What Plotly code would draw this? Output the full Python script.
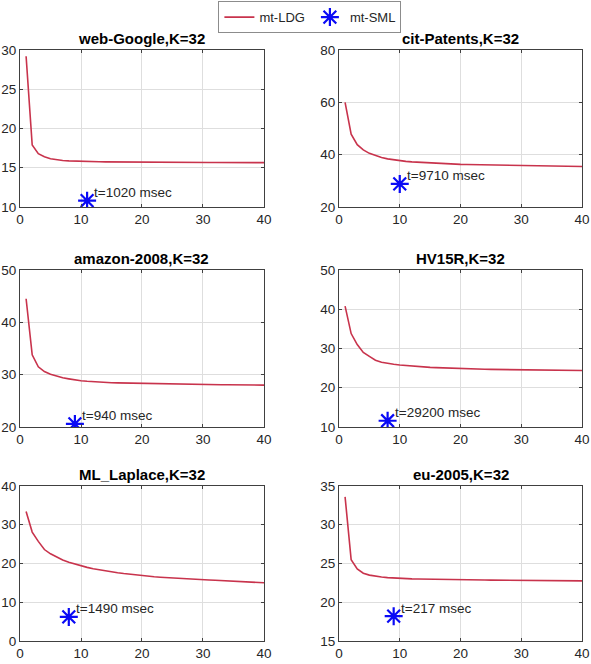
import plotly.graph_objects as go

iters = list(range(1, 41))

titles = ["web-Google,K=32", "cit-Patents,K=32", "amazon-2008,K=32",
          "HV15R,K=32", "ML_Laplace,K=32", "eu-2005,K=32"]

ldg_web_google = [29.2, 17.9, 16.8, 16.4, 16.15, 16.0, 15.92, 15.87, 15.83, 15.8,
                  15.78, 15.77, 15.76, 15.75, 15.74, 15.73, 15.72, 15.72, 15.71, 15.71,
                  15.70, 15.70, 15.69, 15.69, 15.69, 15.68, 15.68, 15.68, 15.67, 15.67,
                  15.67, 15.67, 15.66, 15.66, 15.66, 15.66, 15.65, 15.65, 15.65, 15.65]
ldg_cit_patents = [60.0, 47.8, 43.8, 41.8, 40.5, 39.6, 38.9, 38.4, 38.0, 37.7,
                   37.45, 37.25, 37.1, 36.95, 36.8, 36.7, 36.6, 36.5, 36.4, 36.3,
                   36.25, 36.2, 36.1, 36.05, 36.0, 35.95, 35.9, 35.85, 35.8, 35.77,
                   35.74, 35.7, 35.67, 35.64, 35.6, 35.57, 35.54, 35.5, 35.47, 35.45]
ldg_amazon = [44.5, 33.8, 31.5, 30.6, 30.1, 29.7, 29.4, 29.2, 29.0, 28.85,
              28.75, 28.65, 28.58, 28.52, 28.47, 28.43, 28.4, 28.37, 28.34, 28.32,
              28.3, 28.28, 28.26, 28.24, 28.22, 28.2, 28.18, 28.16, 28.14, 28.12,
              28.1, 28.09, 28.08, 28.07, 28.06, 28.05, 28.04, 28.03, 28.02, 28.0]
ldg_hv15r = [40.8, 33.8, 31.0, 29.0, 28.0, 27.0, 26.5, 26.2, 26.0, 25.8,
             25.65, 25.5, 25.4, 25.3, 25.2, 25.12, 25.05, 25.0, 24.95, 24.9,
             24.85, 24.8, 24.76, 24.72, 24.68, 24.65, 24.62, 24.6, 24.58, 24.56,
             24.54, 24.52, 24.5, 24.48, 24.46, 24.45, 24.44, 24.42, 24.41, 24.4]
ldg_ml_laplace = [33.4, 28.1, 25.7, 23.6, 22.5, 21.6, 20.9, 20.3, 19.8, 19.4,
                  19.0, 18.65, 18.35, 18.05, 17.8, 17.6, 17.4, 17.2, 17.0, 16.85,
                  16.7, 16.58, 16.46, 16.35, 16.25, 16.15, 16.05, 15.97, 15.89, 15.8,
                  15.73, 15.66, 15.59, 15.52, 15.45, 15.38, 15.3, 15.22, 15.12, 15.02]
ldg_eu2005 = [33.6, 25.5, 24.3, 23.75, 23.5, 23.35, 23.25, 23.18, 23.12, 23.08,
              23.05, 23.02, 23.0, 22.98, 22.96, 22.94, 22.93, 22.92, 22.91, 22.9,
              22.89, 22.88, 22.87, 22.86, 22.85, 22.84, 22.83, 22.82, 22.81, 22.8,
              22.8, 22.79, 22.79, 22.78, 22.78, 22.77, 22.77, 22.76, 22.76, 22.75]
ldg_series = [ldg_web_google, ldg_cit_patents, ldg_amazon, ldg_hv15r, ldg_ml_laplace, ldg_eu2005]

sml_x = [11, 10, 9, 8, 8, 9]
sml_y = [10.8, 28.8, 20.6, 11.6, 6.2, 18.2]
sml_labels = ["t=1020 msec", "t=9710 msec", "t=940 msec", "t=29200 msec", "t=1490 msec", "t=217 msec"]

y_ranges = [[10, 30], [20, 80], [20, 50], [10, 50], [0, 40], [15, 35]]
y_ticks = [[10, 15, 20, 25, 30], [20, 40, 60, 80], [20, 30, 40, 50],
           [10, 20, 30, 40, 50], [0, 10, 20, 30, 40], [15, 20, 25, 30, 35]]
x_ticks = [0, 10, 20, 30, 40]

x_domains = [[0, 0.4326], [0.5656, 0.9965]]
y_domains = [[0.7366, 1.0], [0.3674, 0.6309], [0.0084, 0.2685]]

LINE_COLOR = "#C8334C"
STAR_COLOR = "#0A0AF5"
FONT = "Liberation Sans, Arial, sans-serif"
TXT = "#262626"

fig = go.Figure()
layout = {}
annotations = []
for i in range(6):
    r, c = divmod(i, 2)
    n = i + 1
    xa = "x" if n == 1 else f"x{n}"
    ya = "y" if n == 1 else f"y{n}"
    fig.add_trace(go.Scatter(x=iters, y=ldg_series[i], mode="lines",
                             line=dict(color=LINE_COLOR, width=1.6),
                             name="mt-LDG", showlegend=(i == 0),
                             xaxis=xa, yaxis=ya))
    fig.add_trace(go.Scatter(x=[sml_x[i]], y=[sml_y[i]], mode="markers",
                             marker=dict(symbol="asterisk-open", size=15,
                                         line=dict(color=STAR_COLOR, width=2.2),
                                         color=STAR_COLOR),
                             name="mt-SML", showlegend=(i == 0),
                             xaxis=xa, yaxis=ya))
    axis_common = dict(showline=True, mirror="ticks", linecolor="#404040", linewidth=1,
                       showgrid=True, gridcolor="#DEDEDE", gridwidth=1,
                       ticks="inside", ticklen=3, tickcolor="#404040",
                       tickfont=dict(family=FONT, size=13.5, color=TXT),
                       zeroline=False, automargin=False, ticklabeloverflow="allow")
    layout["xaxis" if n == 1 else f"xaxis{n}"] = dict(
        domain=x_domains[c], range=[0, 40], tickvals=x_ticks,
        anchor=ya, **axis_common)
    layout["yaxis" if n == 1 else f"yaxis{n}"] = dict(
        domain=y_domains[r], range=y_ranges[i], tickvals=y_ticks[i],
        anchor=xa, **axis_common)
    annotations.append(dict(x=sum(x_domains[c]) / 2, y=y_domains[r][1],
                            xref="paper", yref="paper", text=f"<b>{titles[i]}</b>",
                            showarrow=False, xanchor="center", yanchor="bottom",
                            yshift=1, font=dict(family=FONT, size=15, color="#000000")))
    annotations.append(dict(x=sml_x[i], y=sml_y[i], xref=xa, yref=ya,
                            text=sml_labels[i], showarrow=False,
                            xanchor="left", yanchor="middle", xshift=5, yshift=8,
                            font=dict(family=FONT, size=13.5, color=TXT)))

fig.update_layout(
    width=591, height=664,
    margin=dict(l=20, r=7, t=50, b=18, autoexpand=False),
    paper_bgcolor="white", plot_bgcolor="white",
    showlegend=True,
    legend=dict(orientation="h", x=0.514, xanchor="center", y=1.082, yanchor="top",
                bordercolor="#8C8C8C", borderwidth=1, bgcolor="white",
                font=dict(family=FONT, size=13, color=TXT),
                itemwidth=30, tracegroupgap=0),
    annotations=annotations,
    **layout,
)

fig.write_html("out.html")
